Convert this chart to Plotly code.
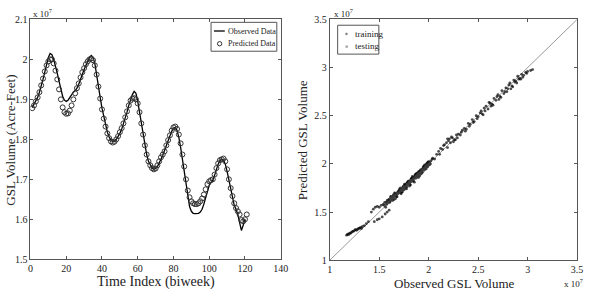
import plotly.graph_objects as go

# ---------------- data ----------------
time_index = list(range(1, 122))
observed = [1.880, 1.888, 1.896, 1.905, 1.918, 1.932, 1.950, 1.968, 1.987, 2.005,
            2.015, 2.012, 2.000, 1.985, 1.965, 1.945, 1.925, 1.908, 1.898, 1.895,
            1.898, 1.905, 1.912, 1.918, 1.922, 1.928, 1.938, 1.952, 1.965, 1.975,
            1.985, 1.995, 2.005, 2.010, 2.005, 1.990, 1.965, 1.935, 1.905, 1.878,
            1.855, 1.835, 1.818, 1.806, 1.798, 1.795, 1.796, 1.800, 1.806, 1.815,
            1.825, 1.838, 1.852, 1.868, 1.885, 1.900, 1.912, 1.920, 1.915, 1.895,
            1.868, 1.840, 1.812, 1.785, 1.762, 1.745, 1.735, 1.728, 1.725, 1.727,
            1.732, 1.740, 1.750, 1.760, 1.772, 1.785, 1.798, 1.810, 1.820, 1.828,
            1.830, 1.822, 1.805, 1.780, 1.750, 1.718, 1.685, 1.655, 1.632, 1.620,
            1.615, 1.614, 1.614, 1.615, 1.618, 1.625, 1.638, 1.655, 1.672, 1.685,
            1.692, 1.698, 1.710, 1.725, 1.738, 1.747, 1.750, 1.748, 1.738, 1.720,
            1.698, 1.675, 1.652, 1.635, 1.625, 1.612, 1.592, 1.572, 1.585, 1.600]
predicted = [1.878, 1.885, 1.895, 1.905, 1.918, 1.935, 1.952, 1.970, 1.985, 1.995,
             2.000, 2.000, 1.990, 1.972, 1.950, 1.925, 1.900, 1.880, 1.868, 1.864,
             1.865, 1.872, 1.885, 1.900, 1.915, 1.928, 1.940, 1.955, 1.968, 1.978,
             1.988, 1.995, 2.000, 2.002, 1.998, 1.985, 1.962, 1.932, 1.902, 1.875,
             1.852, 1.832, 1.815, 1.803, 1.795, 1.792, 1.794, 1.800, 1.808, 1.818,
             1.828, 1.840, 1.855, 1.870, 1.885, 1.897, 1.902, 1.903, 1.900, 1.890,
             1.868, 1.840, 1.812, 1.785, 1.762, 1.745, 1.735, 1.728, 1.725, 1.727,
             1.735, 1.745, 1.755, 1.762, 1.770, 1.785, 1.798, 1.810, 1.822, 1.830,
             1.832, 1.826, 1.812, 1.790, 1.762, 1.732, 1.700, 1.672, 1.655, 1.645,
             1.640, 1.638, 1.638, 1.640, 1.645, 1.652, 1.662, 1.675, 1.688, 1.695,
             1.698, 1.700, 1.712, 1.728, 1.740, 1.748, 1.750, 1.752, 1.745, 1.725,
             1.700, 1.678, 1.658, 1.640, 1.628, 1.620, 1.612, 1.598, 1.595, 1.600,
             1.612]

train_obs = [1.17, 1.18, 1.19, 1.20, 1.21, 1.22, 1.23, 1.24, 1.25, 1.26, 1.27, 1.28, 1.29, 1.30,
             1.31, 1.32, 1.33, 1.35, 1.37, 1.39,
             1.42, 1.44, 1.46, 1.48, 1.50, 1.52, 1.54, 1.45, 1.48, 1.50, 1.53, 1.56, 1.58, 1.60,
             1.55, 1.57, 1.58, 1.60, 1.61, 1.62, 1.63, 1.64, 1.65, 1.66, 1.67, 1.68, 1.69, 1.70,
             1.71, 1.72, 1.73, 1.74, 1.75, 1.76, 1.77, 1.78, 1.79, 1.80, 1.81, 1.82, 1.83, 1.84,
             1.85, 1.86, 1.87, 1.88, 1.89, 1.90, 1.91, 1.92, 1.93, 1.94, 1.95, 1.96, 1.97, 1.98,
             1.99, 2.00, 2.02, 2.04, 2.06, 2.08,
             1.62, 1.66, 1.70, 1.74, 1.78, 1.82, 1.86, 1.90, 1.94, 1.98,
             1.64, 1.68, 1.72, 1.76, 1.80, 1.84, 1.88, 1.92, 1.96,
             1.555, 1.575, 1.595, 1.615, 1.635, 1.655, 1.675, 1.695, 1.715, 1.735, 1.755, 1.775,
             1.795, 1.815, 1.835, 1.855, 1.875, 1.895, 1.915, 1.935, 1.955, 1.975, 1.995, 2.015,
             2.035,
             1.565, 1.585, 1.605, 1.625, 1.645, 1.665, 1.685, 1.705, 1.725, 1.745, 1.765, 1.785,
             1.805, 1.825, 1.845, 1.865, 1.885, 1.905, 1.925, 1.945, 1.965, 1.985, 2.005,
             2.10, 2.12, 2.14, 2.16, 2.18, 2.20, 2.22, 2.24, 2.26, 2.28, 2.30, 2.32, 2.34, 2.36,
             2.38, 2.40, 2.42, 2.44, 2.46, 2.48, 2.50, 2.52, 2.54, 2.56, 2.58, 2.60, 2.62, 2.64,
             2.66, 2.68, 2.70, 2.72, 2.74, 2.76, 2.78, 2.80, 2.82, 2.84, 2.86, 2.88, 2.90, 2.92,
             2.94, 2.96, 2.98, 3.00, 3.03, 3.05,
             2.19, 2.23, 2.27, 2.55, 2.63, 2.71, 2.79, 2.85, 2.89, 2.93,
             2.11, 2.15, 2.19, 2.21, 2.25, 2.29, 2.33, 2.37, 2.41, 2.45, 2.49, 2.53, 2.57, 2.61,
             2.65, 2.69, 2.73, 2.77, 2.81, 2.83, 2.87, 2.91, 2.95, 2.99]
train_pred = [1.26, 1.27, 1.265, 1.28, 1.28, 1.29, 1.30, 1.30, 1.31, 1.32, 1.31, 1.32, 1.33, 1.33,
              1.34, 1.33, 1.35, 1.36, 1.38, 1.40,
              1.50, 1.53, 1.55, 1.56, 1.55, 1.57, 1.58, 1.40, 1.42, 1.43, 1.45, 1.48, 1.50, 1.52,
              1.57, 1.60, 1.62, 1.63, 1.61, 1.66, 1.64, 1.67, 1.63, 1.69, 1.68, 1.66, 1.71, 1.70,
              1.73, 1.69, 1.74, 1.76, 1.73, 1.77, 1.79, 1.76, 1.80, 1.82, 1.79, 1.83, 1.85, 1.82,
              1.86, 1.88, 1.85, 1.89, 1.91, 1.88, 1.92, 1.94, 1.91, 1.95, 1.97, 1.94, 1.98, 2.00,
              1.97, 2.02, 2.03, 2.06, 2.05, 2.10,
              1.65, 1.67, 1.72, 1.75, 1.80, 1.84, 1.87, 1.92, 1.95, 2.00,
              1.66, 1.70, 1.71, 1.78, 1.81, 1.86, 1.90, 1.93, 1.99,
              1.60, 1.58, 1.63, 1.66, 1.62, 1.70, 1.66, 1.72, 1.75, 1.71, 1.79, 1.74,
              1.82, 1.78, 1.87, 1.81, 1.90, 1.86, 1.93, 1.91, 1.98, 1.95, 2.02, 2.00,
              2.05,
              1.55, 1.61, 1.60, 1.64, 1.68, 1.64, 1.69, 1.74, 1.70, 1.77, 1.75, 1.81,
              1.77, 1.85, 1.83, 1.89, 1.87, 1.92, 1.90, 1.97, 1.96, 2.01, 1.99,
              2.13, 2.16, 2.15, 2.20, 2.22, 2.24, 2.22, 2.27, 2.25, 2.30, 2.31, 2.30, 2.35, 2.37,
              2.36, 2.42, 2.41, 2.46, 2.44, 2.50, 2.49, 2.53, 2.52, 2.58, 2.60, 2.57, 2.63, 2.62,
              2.68, 2.66, 2.72, 2.70, 2.76, 2.73, 2.79, 2.78, 2.84, 2.81, 2.87, 2.86, 2.91, 2.89,
              2.93, 2.92, 2.95, 2.96, 2.97, 2.98,
              2.26, 2.28, 2.25, 2.51, 2.60, 2.67, 2.75, 2.80, 2.84, 2.88,
              2.10, 2.19, 2.17, 2.26, 2.23, 2.27, 2.33, 2.34, 2.39, 2.43, 2.47, 2.55, 2.55, 2.64,
              2.61, 2.70, 2.69, 2.75, 2.82, 2.78, 2.85, 2.88, 2.90, 2.94]

diag = [1.0, 3.5]

left_xticks = [0, 20, 40, 60, 80, 100, 120, 140]
left_yticks = [1.5, 1.6, 1.7, 1.8, 1.9, 2.0, 2.1]
left_yticklabels = ["1.5", "1.6", "1.7", "1.8", "1.9", "2", "2.1"]
right_ticks = [1.0, 1.5, 2.0, 2.5, 3.0, 3.5]
right_ticklabels = ["1", "1.5", "2", "2.5", "3", "3.5"]

FONT = "Liberation Serif"
W, H = 590, 298


def px(x):
    return x / W


def py(y):
    return 1 - y / H


fig = go.Figure()

fig.add_trace(go.Scatter(x=time_index[:len(observed)], y=observed, mode="lines",
                         line=dict(color="black", width=1.3), name="Observed Data",
                         xaxis="x", yaxis="y"))
fig.add_trace(go.Scatter(x=time_index, y=predicted, mode="markers",
                         marker=dict(symbol="circle-open", size=5, color="#333333",
                                     line=dict(width=1)),
                         name="Predicted Data", xaxis="x", yaxis="y"))

fig.add_trace(go.Scatter(x=diag, y=diag, mode="lines", line=dict(color="#999999", width=1),
                         xaxis="x2", yaxis="y2", hoverinfo="skip"))
fig.add_trace(go.Scatter(x=train_obs, y=train_pred, mode="markers",
                         marker=dict(symbol="circle", size=2.8, color="rgba(0,0,0,0.7)"),
                         name="training", xaxis="x2", yaxis="y2"))
fig.add_trace(go.Scatter(x=observed, y=predicted[:len(observed)], mode="markers",
                         marker=dict(symbol="circle", size=2.8, color="rgba(60,60,60,0.7)"),
                         name="testing", xaxis="x2", yaxis="y2"))

axis_common = dict(showline=True, linecolor="#555555", linewidth=1, mirror="ticks",
                   ticks="inside", ticklen=3, tickcolor="#555555", showgrid=False,
                   zeroline=False, tickfont=dict(family=FONT, size=10, color="#222222"))

fig.update_layout(
    width=W, height=H,
    margin=dict(l=0, r=0, t=0, b=0),
    paper_bgcolor="white", plot_bgcolor="white",
    font=dict(family=FONT, color="#222222"),
    showlegend=False,
    xaxis=dict(domain=[px(28), px(283)], range=[0, 140], tickvals=left_xticks,
               anchor="y", **axis_common),
    yaxis=dict(domain=[py(264), py(15)], range=[1.5, 2.1], tickvals=left_yticks,
               ticktext=left_yticklabels, anchor="x", **axis_common),
    xaxis2=dict(domain=[px(333), px(585)], range=[1, 3.5], tickvals=right_ticks,
                ticktext=right_ticklabels, anchor="y2", **axis_common),
    yaxis2=dict(domain=[py(265), py(15)], range=[1, 3.5], tickvals=right_ticks,
                ticktext=right_ticklabels, anchor="x2", **axis_common),
)

# ---- legend boxes (drawn as shapes + text, MATLAB-style compact legends) ----
shapes = [
    dict(type="rect", x0=px(212), x1=px(279), y0=py(48), y1=py(18),
         line=dict(color="#555555", width=1), fillcolor="white"),
    dict(type="line", x0=px(215), x1=px(226), y0=py(27), y1=py(27),
         line=dict(color="black", width=1.3)),
    dict(type="circle", x0=px(218.5), x1=px(223), y0=py(42.5), y1=py(38),
         line=dict(color="#333333", width=1)),
    dict(type="rect", x0=px(341), x1=px(383), y0=py(51), y1=py(21),
         line=dict(color="#555555", width=1), fillcolor="white"),
    dict(type="circle", x0=px(349), x1=px(351), y0=py(31), y1=py(29),
         line=dict(color="#777777", width=0.5), fillcolor="#777777"),
    dict(type="circle", x0=px(349), x1=px(351.5), y0=py(44.5), y1=py(42),
         line=dict(color="#aaaaaa", width=0.5), fillcolor="#aaaaaa"),
]
for s in shapes:
    s.update(xref="paper", yref="paper", layer="above")
    fig.add_shape(**s)

ann = [
    dict(text="Observed Data", x=227, y=27, size=8, xa="left"),
    dict(text="Predicted Data", x=227, y=40, size=8, xa="left"),
    dict(text="training", x=357, y=30, size=9, xa="left"),
    dict(text="testing", x=357, y=43, size=9, xa="left"),
    dict(text="x 10<sup>7</sup>", x=29, y=8, size=9, xa="left"),
    dict(text="x 10<sup>7</sup>", x=335, y=8, size=9, xa="left"),
    dict(text="x 10<sup>7</sup>", x=570, y=289, size=9, xa="left"),
    dict(text="GSL Volume (Acre-Feet)", x=8, y=140, size=13, xa="center", angle=-90),
    dict(text="Time Index (biweek)", x=156, y=288, size=14, xa="center"),
    dict(text="Predicted GSL Volume", x=306, y=140, size=13, xa="center", angle=-90),
    dict(text="Observed GSL Volume", x=460, y=289, size=13, xa="center"),
]
for a in ann:
    fig.add_annotation(xref="paper", yref="paper", showarrow=False,
                       xanchor=a["xa"], yanchor="middle",
                       font=dict(family=FONT, color="#222222", size=a["size"]),
                       text=a["text"], x=px(a["x"]), y=py(a["y"]),
                       textangle=a.get("angle", 0))

fig.write_html("out.html")
